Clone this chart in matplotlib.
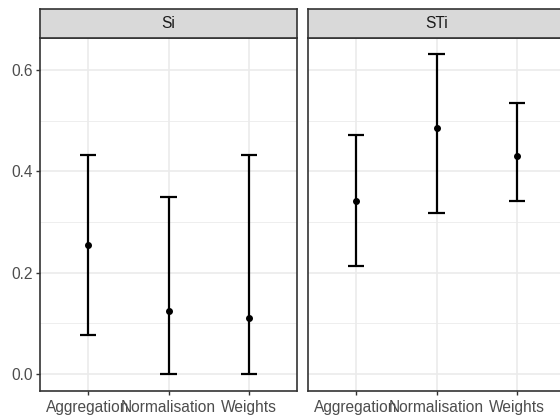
import numpy as np
import matplotlib.pyplot as plt

plt.rcParams['font.family'] = ['Liberation Sans', 'DejaVu Sans']

# data
categories = ["Aggregation", "Normalisation", "Weights"]
panels = ["Si", "STi"]
si_mean = [0.254, 0.125, 0.110]
si_low = [0.078, 0.0, 0.0]
si_high = [0.432, 0.349, 0.432]
sti_mean = [0.342, 0.486, 0.430]
sti_low = [0.214, 0.318, 0.342]
sti_high = [0.472, 0.631, 0.535]

W, H = 560, 418
fig = plt.figure(figsize=(W / 100, H / 100), dpi=100)

border = "#333333"
grid = "#EBEBEB"

def panel(left, means, lows, highs, title, show_y):
    ax = fig.add_axes([left / W, (H - 391) / H, 257 / W, 353 / H])
    x = np.arange(len(categories))
    ax.set_xlim(-0.6, 2.6)
    ax.set_ylim(-0.0335, 0.6635)
    # grid like theme_bw
    for y in [0.1, 0.3, 0.5]:
        ax.axhline(y, color=grid, lw=0.6, zorder=0)
    for y in [0.0, 0.2, 0.4, 0.6]:
        ax.axhline(y, color=grid, lw=1.2, zorder=0)
    for xi in x:
        ax.axvline(xi, color=grid, lw=1.2, zorder=0)
    for xi, lo, hi in zip(x, lows, highs):
        ax.vlines(xi, lo, hi, color="black", lw=1.6, zorder=3)
        ax.hlines([lo, hi], xi - 0.1, xi + 0.1, color="black", lw=1.6, zorder=3)
    ax.plot(x, means, "o", color="black", ms=4, zorder=4)
    ax.set_xticks(x)
    ax.set_xticklabels(categories, fontsize=11.2, color="#4D4D4D")
    ax.set_yticks([0.0, 0.2, 0.4, 0.6])
    if show_y:
        ax.set_yticklabels(["0.0", "0.2", "0.4", "0.6"], fontsize=11.2, color="#4D4D4D")
        ax.tick_params(axis="y", length=3, width=1, color="#333333", pad=2)
    else:
        ax.tick_params(axis="y", length=0, labelleft=False)
    ax.tick_params(axis="x", length=3, width=1, color="#333333", pad=3.5)
    for s in ax.spines.values():
        s.set_color(border)
        s.set_linewidth(1.2)

    strip = fig.add_axes([left / W, (H - 38) / H, 257 / W, 29 / H])
    strip.set_facecolor("#D9D9D9")
    strip.set_xticks([])
    strip.set_yticks([])
    for s in strip.spines.values():
        s.set_color(border)
        s.set_linewidth(1.2)
    strip.text(0.5, 0.5, title, ha="center", va="center", fontsize=11.2,
               color="#1A1A1A", transform=strip.transAxes)
    return ax

panel(40, si_mean, si_low, si_high, panels[0], True)
panel(308, sti_mean, sti_low, sti_high, panels[1], False)

fig.savefig("out.png", dpi=100)
